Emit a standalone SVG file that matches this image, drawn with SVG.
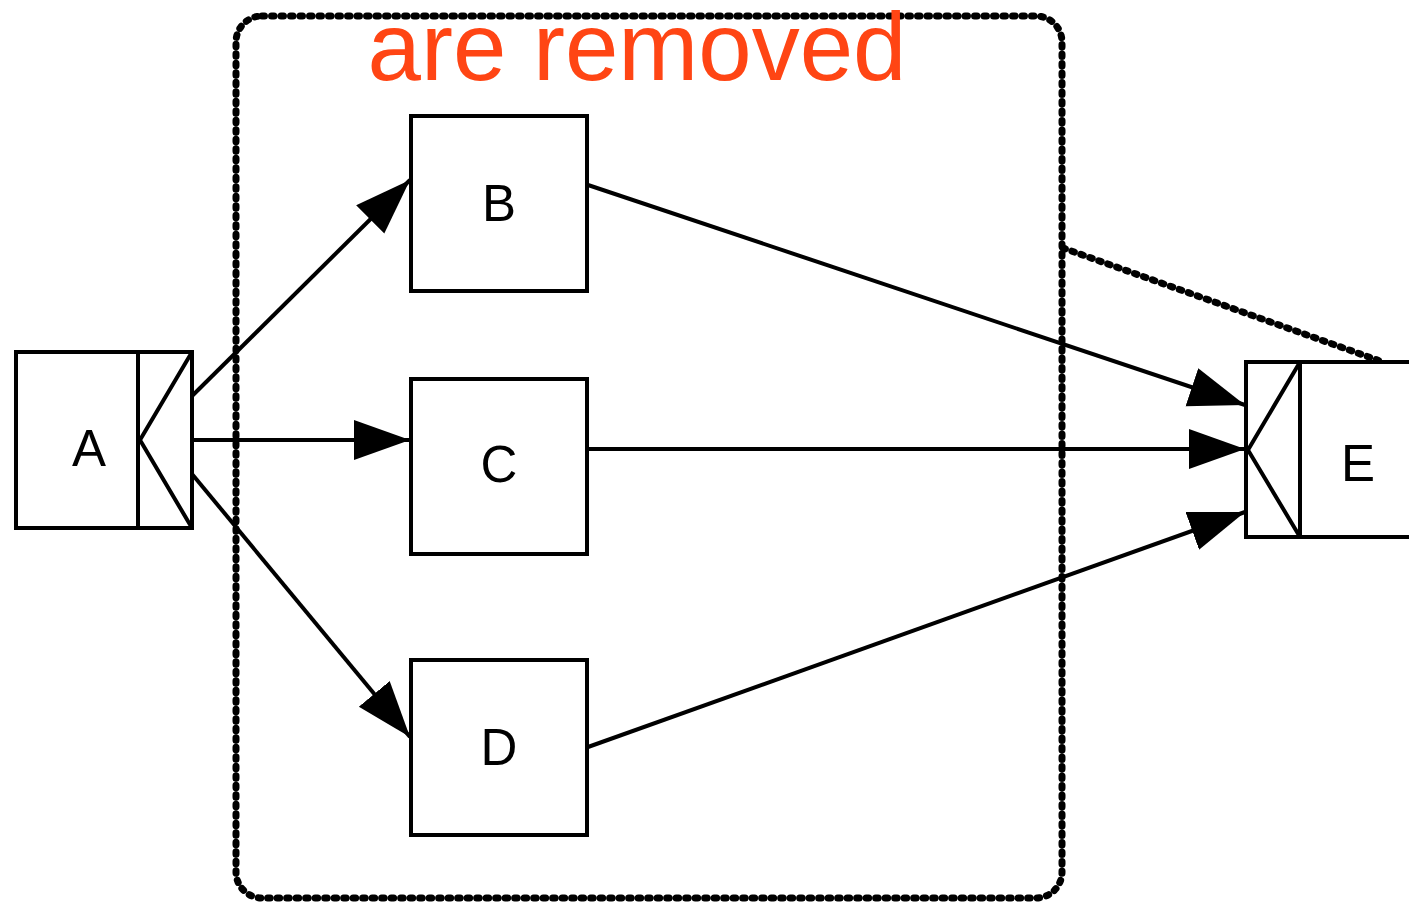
<svg xmlns="http://www.w3.org/2000/svg" width="1409" height="903" viewBox="0 0 1409 903">
  <defs>
    <style>
      .box { fill: #ffffff; stroke: #000000; stroke-width: 4; stroke-linejoin: miter; }
      .part { fill: none; stroke: #000000; stroke-width: 4; }
      .edge { fill: none; stroke: #000000; stroke-width: 4; marker-end: url(#head); }
      .dots { fill: none; stroke: #000000; stroke-width: 7; stroke-linecap: round; stroke-dasharray: 2.5 7; }
      .label { font-family: "Liberation Sans", Arial, sans-serif; font-size: 51px; fill: #000000; text-anchor: middle; }
      .title { font-family: "Liberation Sans", Arial, sans-serif; font-size: 96px; fill: #ff4514; text-anchor: middle; }
    </style>
    <marker id="head" markerUnits="userSpaceOnUse" markerWidth="60" markerHeight="42" refX="56" refY="20" orient="auto">
      <path d="M0,0 L56,20 L0,40 Z" fill="#000000"/>
    </marker>
  </defs>

  <rect width="1409" height="903" fill="#ffffff"/>

  <!-- cluster outline and its callout line -->
  <g id="cluster">
    <rect class="dots" x="236" y="16" width="826" height="882" rx="26" ry="26"/>
    <line class="dots" x1="1063" y1="248" x2="1380" y2="361"/>
    <text class="title" x="637" y="80">are removed</text>
  </g>

  <!-- connectors -->
  <g id="edges">
    <line class="edge" x1="192" y1="396" x2="410" y2="180"/>
    <line class="edge" x1="192" y1="440" x2="410" y2="440"/>
    <line class="edge" x1="192" y1="474" x2="410" y2="737"/>
    <line class="edge" x1="588" y1="185" x2="1245" y2="405"/>
    <line class="edge" x1="588" y1="449" x2="1245" y2="449"/>
    <line class="edge" x1="588" y1="747" x2="1245" y2="512"/>
  </g>

  <g id="node-A">
    <rect class="box" x="16" y="352" width="176" height="176"/>
    <line class="part" x1="138" y1="352" x2="138" y2="528"/>
    <polyline class="part" points="192,352 140,440 192,528"/>
    <text class="label" x="89" y="466">A</text>
  </g>

  <g id="node-B">
    <rect class="box" x="411" y="116" width="176" height="175"/>
    <text class="label" x="499" y="221">B</text>
  </g>

  <g id="node-C">
    <rect class="box" x="411" y="379" width="176" height="175"/>
    <text class="label" x="499" y="482">C</text>
  </g>

  <g id="node-D">
    <rect class="box" x="411" y="660" width="176" height="175"/>
    <text class="label" x="499" y="765">D</text>
  </g>

  <g id="node-E">
    <rect class="box" x="1246" y="362" width="200" height="175"/>
    <line class="part" x1="1300" y1="362" x2="1300" y2="537"/>
    <polyline class="part" points="1300,362 1248,450 1300,537"/>
    <text class="label" x="1358" y="481">E</text>
  </g>
</svg>
